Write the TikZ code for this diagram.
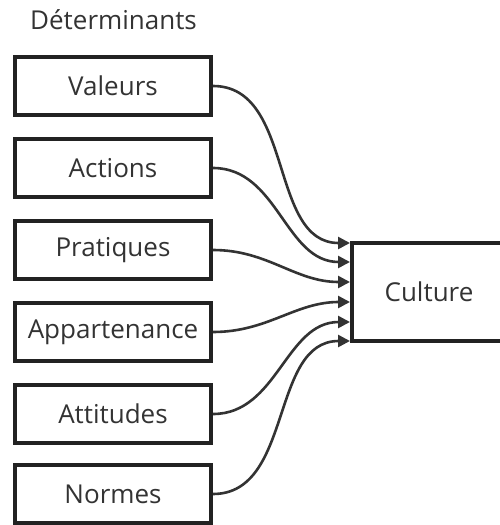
\documentclass[tikz,border=0pt]{standalone}
\usepackage{fontspec}
\setmainfont{Open Sans}
\usepackage{xcolor}
\usepackage{tikz}
\usetikzlibrary{arrows.meta}

\definecolor{boxline}{HTML}{222222}
\definecolor{inkgray}{HTML}{333333}

\begin{document}
\begin{tikzpicture}[x=1pt,y=-1pt,
  detbox/.style={draw=boxline,line width=4pt,minimum width=196pt,minimum height=58pt,
    inner sep=0pt,text=inkgray,font=\fontsize{26}{30}\selectfont},
  culturebox/.style={draw=boxline,line width=4pt,minimum width=154pt,minimum height=98pt,
    inner sep=0pt,text=inkgray,font=\fontsize{26}{30}\selectfont},
  link/.style={draw=inkgray,line width=2.6pt,-{Triangle[length=12pt,width=12pt]},
    out=0,in=180}]
\useasboundingbox (0,0) rectangle (500,525);

% Title
\node[anchor=base west,text=inkgray,font=\fontsize{26}{30}\selectfont,inner sep=0pt]
  (title) at (30,29) {Déterminants};

% Determinants
\node[detbox] (valeurs) at (113,86) {Valeurs};
\node[detbox] (actions) at (113,168) {Actions};
\node[detbox] (pratiques) at (113,250) {Pratiques};
\node[detbox] (appartenance) at (113,332) {Appartenance};
\node[detbox] (attitudes) at (113,414) {Attitudes};
\node[detbox] (normes) at (113,494) {Normes};

% Culture
\node[culturebox] (culture) at (429,292) {Culture};

% Links
\draw[link] (valeurs.east) to ([yshift=49pt]culture.west);
\draw[link] (actions.east) to ([yshift=30pt]culture.west);
\draw[link] (pratiques.east) to ([yshift=10pt]culture.west);
\draw[link] (appartenance.east) to ([yshift=-10pt]culture.west);
\draw[link] (attitudes.east) to ([yshift=-30pt]culture.west);
\draw[link] (normes.east) to ([yshift=-49pt]culture.west);
\end{tikzpicture}
\end{document}
